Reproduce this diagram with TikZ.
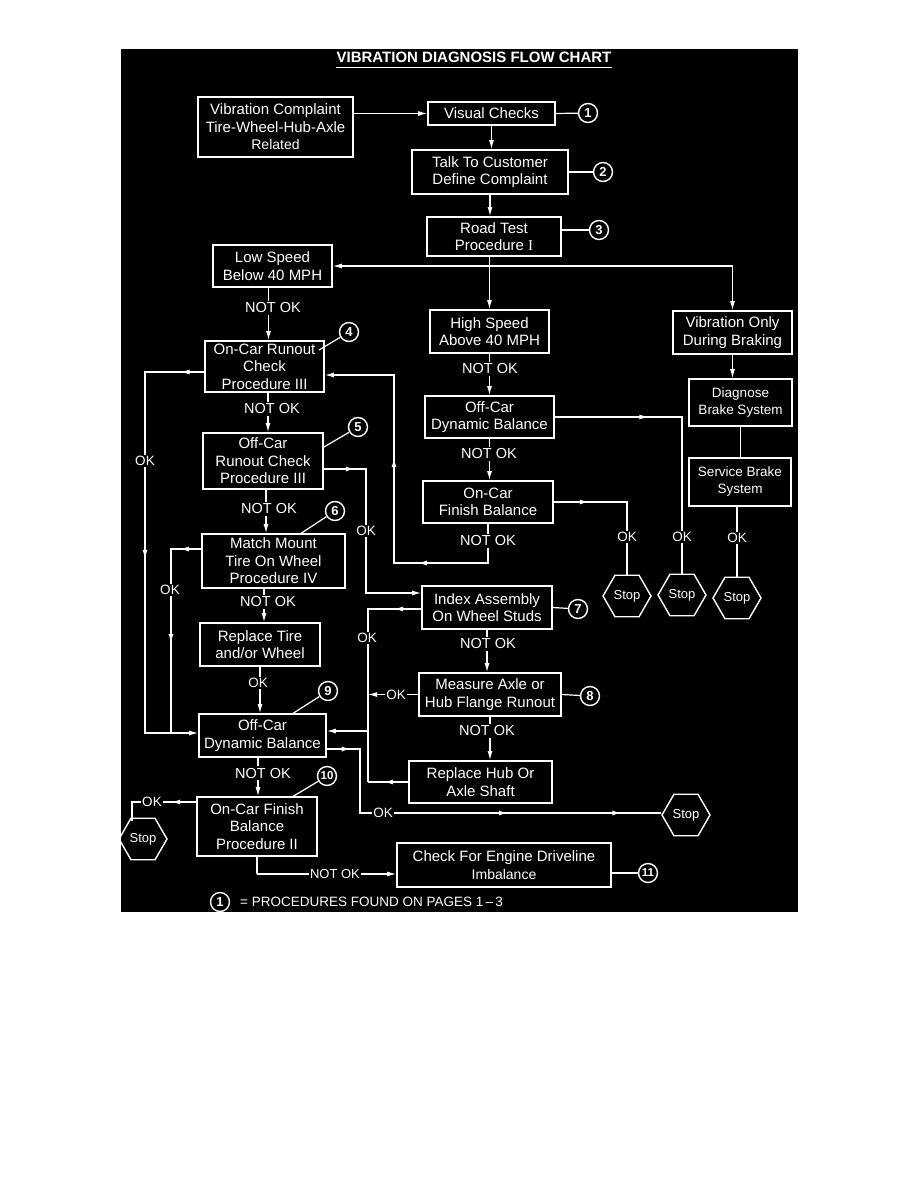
\documentclass[tikz,border=0pt]{standalone}
\usepackage{fontspec}
\setmainfont{Liberation Sans}
\newfontfamily\serifI{Liberation Serif}
\usetikzlibrary{arrows.meta,shapes.geometric,decorations.markings,calc}
\begin{document}
\begin{tikzpicture}[x=1pt,y=-1pt,
  box/.style={draw=white,line width=1.6pt,text=white,align=center,inner sep=0pt,font=\fontsize{15}{17.5}\selectfont},
  smallbox/.style={box,font=\fontsize{13.5}{17}\selectfont},
  num/.style={circle,draw=white,line width=1.4pt,text=white,inner sep=0pt,minimum size=19pt,font=\bfseries\fontsize{13}{13}\selectfont},
  stopsign/.style={regular polygon,regular polygon sides=6,draw=white,line width=1.4pt,text=white,inner sep=0pt,minimum size=48pt,font=\fontsize{13}{13}\selectfont},
  lab/.style={fill=black,text=white,inner sep=1.5pt,font=\fontsize{14.5}{14.5}\selectfont},
  oklab/.style={lab,font=\fontsize{13.5}{13.5}\selectfont},
  conn/.style={white,line width=1.2pt},
  arr/.style={conn,-{Latex[length=9pt,width=5pt]}},
  marr/.style={postaction={decorate,decoration={markings,mark=at position #1 with {\arrow{Latex[length=9pt,width=5pt]}}}}},
]
\useasboundingbox (0,0) rectangle (918,1188);
\fill[white] (0,0) rectangle (918,1188);
\fill[black] (121,49) rectangle (798,912);

% title
\node[text=white,font=\bfseries\fontsize{15}{15}\selectfont,anchor=base,inner sep=0pt] (title) at (474,62.5) {VIBRATION DIAGNOSIS FLOW CHART};
\draw[white,line width=1.5pt] (title.base west |- 0,67.5) -- (title.base east |- 0,67.5);

% boxes
\node[box,minimum width=155pt,minimum height=60pt] (vc) at (275.5,127) {Vibration Complaint\\Tire-Wheel-Hub-Axle\\{\fontsize{14}{17.5}\selectfont Related}};
\node[box,minimum width=127pt,minimum height=23pt] (vis) at (491.5,113.5) {Visual Checks};
\node[box,minimum width=156pt,minimum height=44pt] (talk) at (490,172) {Talk To Customer\\Define Complaint};
\node[box,minimum width=134pt,minimum height=39pt] (road) at (494,236.5) {Road Test\\Procedure {\serifI I}};
\node[box,minimum width=119pt,minimum height=42pt] (low) at (272.5,266) {Low Speed\\Below 40 MPH};
\node[box,minimum width=119pt,minimum height=43pt] (high) at (489.5,331.5) {High Speed\\Above 40 MPH};
\node[box,minimum width=119pt,minimum height=43pt] (vibonly) at (732.5,332.5) {Vibration Only\\During Braking};
\node[smallbox,minimum width=103pt,minimum height=47pt] (diag) at (740.5,402.5) {Diagnose\\Brake System};
\node[smallbox,minimum width=102pt,minimum height=48pt] (serv) at (740,482) {Service Brake\\System};
\node[box,minimum width=129pt,minimum height=42pt] (offdyn1) at (489.5,417) {Off-Car\\Dynamic Balance};
\node[box,minimum width=130pt,minimum height=42pt] (onfin1) at (488,502) {On-Car\\Finish Balance};
\node[box,minimum width=119pt,minimum height=51pt] (onrun) at (264.5,366.5) {On-Car Runout\\Check\\Procedure III};
\node[box,minimum width=120pt,minimum height=56pt] (offrun) at (263,461) {Off-Car\\Runout Check\\Procedure III};
\node[box,minimum width=143pt,minimum height=54pt] (match) at (273.5,561) {Match Mount\\Tire On Wheel\\Procedure IV};
\node[box,minimum width=120pt,minimum height=43pt] (reptire) at (260,644.5) {Replace Tire\\and/or Wheel};
\node[box,minimum width=127pt,minimum height=43pt] (offdyn2) at (262.5,735.5) {Off-Car\\Dynamic Balance};
\node[box,minimum width=130pt,minimum height=43pt] (index) at (487,607.5) {Index Assembly\\On Wheel Studs};
\node[box,minimum width=142pt,minimum height=43pt] (measure) at (490,694.5) {Measure Axle or\\Hub Flange Runout};
\node[box,minimum width=143pt,minimum height=42pt] (rephub) at (480.5,782) {Replace Hub Or\\Axle Shaft};
\node[box,minimum width=120pt,minimum height=59pt] (onfin2) at (257,826.5) {On-Car Finish\\Balance\\Procedure II};
\node[box,minimum width=214pt,minimum height=44pt] (check) at (504,865) {Check For Engine Driveline\\{\fontsize{14}{17}\selectfont Imbalance}};

% numbered circles
\node[num] (c1) at (588,113) {1};
\node[num] (c2) at (603,172) {2};
\node[num] (c3) at (599,230) {3};
\node[num] (c4) at (349,332) {4};
\node[num] (c5) at (358,427) {5};
\node[num] (c6) at (335,511) {6};
\node[num] (c7) at (578,609) {7};
\node[num] (c8) at (590,696) {8};
\node[num] (c9) at (328,691) {9};
\node[num,font=\bfseries\fontsize{11.5}{11.5}\selectfont] (c10) at (327,776) {10};
\node[num,font=\bfseries\fontsize{11.5}{11.5}\selectfont] (c11) at (648,873) {11};

% stop signs
\node[stopsign] (s1) at (627,596) {Stop};
\node[stopsign] (s2) at (682,595) {Stop};
\node[stopsign] (s3) at (737,598) {Stop};
\node[stopsign] (s4) at (686,815) {Stop};
\node[stopsign] (s5) at (143,839) {Stop};

% helper coordinates
\coordinate (k4) at (319,350);
\coordinate (k5) at (324,447);
\coordinate (k6) at (300,534);
\coordinate (k9) at (292,714);
\coordinate (k10) at (292,797);
\coordinate (split) at (high.north |- low.east);
\coordinate (v1) at (268.5,0);
\coordinate (v2) at (268,0);
\coordinate (v3) at (266,0);
\coordinate (v4) at (264,0);
\coordinate (v5) at (260,0);
\coordinate (v6) at (258,0);
\coordinate (lp2) at (394,563);
\coordinate (lp3) at (394,375);
\coordinate (L1) at (145,372);
\coordinate (L2) at (145,733);
\coordinate (M1) at (171,549);
\coordinate (Q1) at (366,469);
\coordinate (Q2) at (366,593);
\coordinate (T1) at (368,609);
\coordinate (T2) at (368,731);
\coordinate (T3) at (368,782);
\coordinate (U1) at (360,749);
\coordinate (U2) at (360,813);
\coordinate (N1) at (257,874);
\coordinate (W1) at (132,802);
\coordinate (s5e) at ($(s5)+(-10.4,-18)$);

% leaders to circles
\draw[conn] (vis.east) -- (c1);
\draw[conn] (talk.east) -- (c2);
\draw[conn] (road.east |- c3) -- (c3);
\draw[conn] (c4) -- (k4);
\draw[conn] (c5) -- (k5);
\draw[conn] (c6) -- (k6);
\draw[conn] (index.east) -- (c7);
\draw[conn] (measure.east) -- (c8);
\draw[conn] (c9) -- (k9);
\draw[conn] (c10) -- (k10);
\draw[conn] (check.east |- c11) -- (c11);

% top flow
\draw[arr] (vc.east |- vis.west) -- (vis.west);
\draw[arr] (vis.south) -- (vis.south |- talk.north);
\draw[arr] (talk.south) -- (talk.south |- road.north);
\draw[conn] (high.north |- road.south) -- (split);
\draw[arr] (split) -- (high.north);
\draw[arr] (split) -- (low.east);
\draw[arr] (split) -| (vibonly.north);

% braking column
\draw[arr] (vibonly.south) -- (vibonly.south |- diag.north);
\draw[conn] (diag.south) -- (diag.south |- serv.north);
\draw[conn] (serv.south -| s3.north) -- (s3.north);

% high speed column
\draw[arr] (high.south) -- (high.south |- offdyn1.north);
\draw[arr] (offdyn1.south) -- (offdyn1.south |- onfin1.north);
\draw[conn,marr=0.33] (offdyn1.east) -| (s2.north);
\draw[conn,marr=0.24] (onfin1.east) -| (s1.north);
\draw[arr,marr=0.28,marr=0.61] (onfin1.south) -- (onfin1.south |- lp2) -- (lp2) -- (lp3) -- (lp3 -| onrun.east);

% low speed column
\draw[arr] (low.south -| v1) -- (onrun.north -| v1);
\draw[arr] (onrun.south -| v2) -- (offrun.north -| v2);
\draw[arr] (offrun.south -| v3) -- (match.north -| v3);
\draw[arr] (match.south -| v4) -- (reptire.north -| v4);
\draw[arr] (reptire.south -| v5) -- (offdyn2.north -| v5);
\draw[arr] (offdyn2.south -| v6) -- (onfin2.north -| v6);

% OK loops on the left
\draw[arr,marr=0.05,marr=0.52] (L1 -| onrun.west) -- (L1) -- (L2) -- (L2 -| offdyn2.west);
\draw[conn,marr=0.1,marr=0.58] (M1 -| match.west) -- (M1) -- (M1 |- L2);

% index / hub column
\draw[arr,marr=0.14] (Q1 -| offrun.east) -- (Q1) -- (Q2) -- (Q2 -| index.west);
\draw[conn,marr=0.12] (index.west |- T1) -- (T1) -- (T3);
\draw[arr] (T2) -- (T2 -| offdyn2.east);
\draw[arr] (measure.west) -- (measure.west -| T1);
\draw[conn,marr=0.6] (rephub.west) -- (rephub.west -| T3);
\draw[arr] (index.south) -- (index.south |- measure.north);
\draw[arr] (measure.south) -- (measure.south |- rephub.north);

% bottom
\draw[conn,marr=0.06,marr=0.615,marr=0.9] (U1 -| offdyn2.east) -- (U1) -- (U2) -- (U2 -| s4.west);
\draw[arr] (onfin2.south |- N1) -- (N1 -| check.west);
\draw[conn] (onfin2.south) -- (N1);
\draw[conn,marr=0.3] (W1 -| onfin2.west) -- (W1) -- (W1 |- s5e);

% labels
\node[lab] (l1) at (273,308) {NOT OK};
\node[lab] (l2) at (272,409) {NOT OK};
\node[lab] (l3) at (269,509) {NOT OK};
\node[lab] (l4) at (268,602) {NOT OK};
\node[oklab] (l5) at (258,683) {OK};
\node[lab] (l6) at (263,773) {NOT OK};
\node[lab] (l7) at (490,369) {NOT OK};
\node[lab] (l8) at (489,454) {NOT OK};
\node[lab] (l9) at (488,541) {NOT OK};
\node[lab] (l10) at (488,644) {NOT OK};
\node[lab] (l11) at (487,731) {NOT OK};
\node[oklab] (o1) at (627,537) {OK};
\node[oklab] (o2) at (682,537) {OK};
\node[oklab] (o3) at (737,538) {OK};
\node[oklab] (o4) at (145,461) {OK};
\node[oklab] (o5) at (170,590) {OK};
\node[oklab] (o6) at (366,531) {OK};
\node[oklab] (o7) at (367,638) {OK};
\node[oklab] (o8) at (396,695) {OK};
\node[oklab] (o9) at (383,813) {OK};
\node[oklab] (o10) at (152,802) {OK};
\node[lab,font=\fontsize{13}{13}\selectfont] (l12) at (335,874) {NOT OK};

% footnote
\node[num] (fn) at (220,902) {1};
\node[text=white,anchor=west,inner sep=0pt,font=\fontsize{13.5}{13.5}\selectfont] (fntext) at (240,902) {= PROCEDURES FOUND ON PAGES 1\,–\,3};
\end{tikzpicture}
\end{document}
